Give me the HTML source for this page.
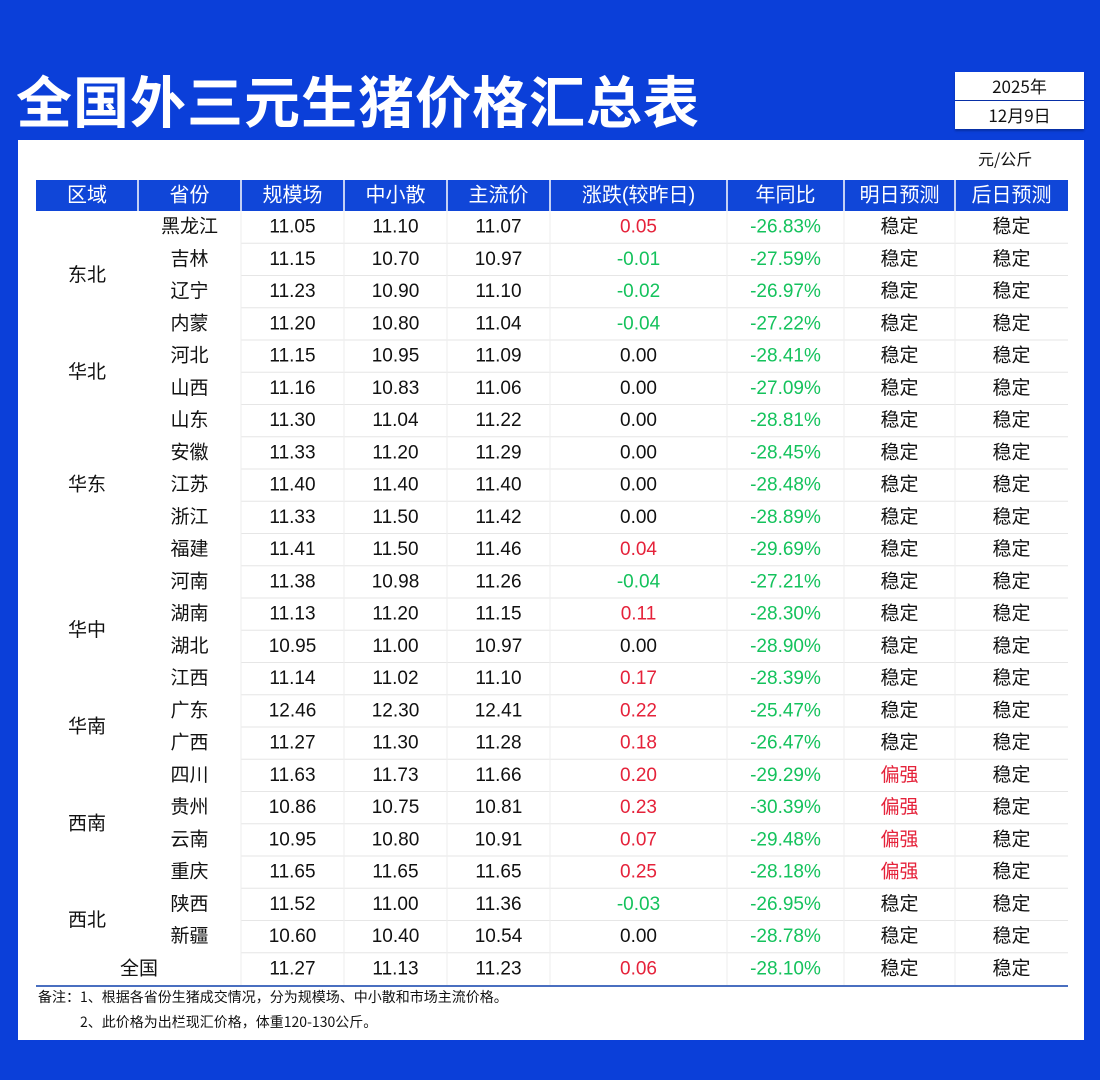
<!DOCTYPE html>
<html><head><meta charset="utf-8"><style>
body{margin:0;width:1100px;height:1080px;background:#0b3fd9;font-family:"Liberation Sans","Noto Sans CJK SC",sans-serif;position:relative;overflow:hidden}
#title{position:absolute;left:16px;top:62px;font-size:56px;font-weight:bold;color:#fff;letter-spacing:1px;font-family:"Noto Sans CJK SC",sans-serif;line-height:76px}
.db{position:absolute;left:955px;width:129px;height:28px;background:#fff;color:#111;font-size:17px;text-align:center;line-height:28px;font-family:"Noto Sans CJK SC",sans-serif;box-shadow:0 2px 2px rgba(0,0,0,.25)}
#panel{position:absolute;left:18px;top:140px;width:1066px;height:900px;background:#fff}
#unit{position:absolute;left:978px;top:146px;font-size:16px;color:#111;font-family:"Noto Sans CJK SC",sans-serif}
#tbl{position:absolute;left:0;top:0}
.note{position:absolute;font-size:14px;color:#111;font-family:"Noto Sans CJK SC",sans-serif}
</style></head><body>
<div id="title">全国外三元生猪价格汇总表</div>
<div class="db" style="top:72px">2025年</div>
<div class="db" style="top:101px">12月9日</div>
<div id="panel"></div>
<div id="unit">元/公斤</div>
<svg id="tbl" width="1100" height="1080"></svg>
<div class="note" style="left:38px;top:987px">备注：1、根据各省份生猪成交情况，分为规模场、中小散和市场主流价格。</div>
<div class="note" style="left:80px;top:1012px">2、此价格为出栏现汇价格，体重120-130公斤。</div>
<script>
const headers=["区域","省份","规模场","中小散","主流价","涨跌(较昨日)","年同比","明日预测","后日预测"];
const provinces=["黑龙江","吉林","辽宁","内蒙","河北","山西","山东","安徽","江苏","浙江","福建","河南","湖南","湖北","江西","广东","广西","四川","贵州","云南","重庆","陕西","新疆","全国"];
const scale=[11.05,11.15,11.23,11.20,11.15,11.16,11.30,11.33,11.40,11.33,11.41,11.38,11.13,10.95,11.14,12.46,11.27,11.63,10.86,10.95,11.65,11.52,10.60,11.27];
const small=[11.10,10.70,10.90,10.80,10.95,10.83,11.04,11.20,11.40,11.50,11.50,10.98,11.20,11.00,11.02,12.30,11.30,11.73,10.75,10.80,11.65,11.00,10.40,11.13];
const mainp=[11.07,10.97,11.10,11.04,11.09,11.06,11.22,11.29,11.40,11.42,11.46,11.26,11.15,10.97,11.10,12.41,11.28,11.66,10.81,10.91,11.65,11.36,10.54,11.23];
const change=[0.05,-0.01,-0.02,-0.04,0,0,0,0,0,0,0.04,-0.04,0.11,0,0.17,0.22,0.18,0.20,0.23,0.07,0.25,-0.03,0,0.06];
const yoy=[-26.83,-27.59,-26.97,-27.22,-28.41,-27.09,-28.81,-28.45,-28.48,-28.89,-29.69,-27.21,-28.30,-28.90,-28.39,-25.47,-26.47,-29.29,-30.39,-29.48,-28.18,-26.95,-28.78,-28.10];
const tomorrow=["稳定","稳定","稳定","稳定","稳定","稳定","稳定","稳定","稳定","稳定","稳定","稳定","稳定","稳定","稳定","稳定","稳定","偏强","偏强","偏强","偏强","稳定","稳定","稳定"];
const dayAfter=["稳定","稳定","稳定","稳定","稳定","稳定","稳定","稳定","稳定","稳定","稳定","稳定","稳定","稳定","稳定","稳定","稳定","稳定","稳定","稳定","稳定","稳定","稳定","稳定"];
const regions=["东北","华北","华东","华中","华南","西南","西北"];
const regionStart=[0,4,6,11,15,17,21];
const regionCount=[4,2,5,4,2,4,2];
const cols=[36,138,241,344,447,550,727,844,955,1068];
const top0=211,rh=32.25,hy=180;
const svg=document.getElementById('tbl');
const NS="http://www.w3.org/2000/svg";
function mk(t,a,parent){const e=document.createElementNS(NS,t);for(const k in a)e.setAttribute(k,a[k]);(parent||svg).appendChild(e);return e;}
function txt(x,y,s,fill,size,name){const t=mk('text',{x:x,y:y,'text-anchor':'middle','dominant-baseline':'central',fill:fill,'font-size':size,'font-family':'"Liberation Sans","Noto Sans CJK SC",sans-serif'});t.textContent=s;


return t;}
const hb=mk('rect',{x:cols[0],y:hy,width:cols[9]-cols[0],height:top0-hy,fill:'#1046d8'});


for(let i=0;i<9;i++){
  if(i>0){const l=mk('line',{x1:cols[i],x2:cols[i],y1:hy,y2:top0,stroke:'#fff','stroke-width':1.5});
  
  }
  txt((cols[i]+cols[i+1])/2,hy+15.5,headers[i],'#fff',20,'header-'+i);
}
const n=provinces.length;
for(let r=1;r<n;r++){
  const y=top0+r*rh;
  const l=mk('line',{x1:cols[2],x2:cols[9],y1:y,y2:y,stroke:'#e6e6e6','stroke-width':1});
  
  
}
for(let i=2;i<9;i++){
  const l=mk('line',{x1:cols[i],x2:cols[i],y1:top0,y2:top0+n*rh,stroke:'#eeeeee','stroke-width':1});
  
  
}
const bl=mk('line',{x1:cols[0],x2:cols[9],y1:top0+n*rh+1,y2:top0+n*rh+1,stroke:'#4a6fc0','stroke-width':2});


for(let i=0;i<regions.length;i++){
  const cy=top0+(regionStart[i]+regionCount[i]/2)*rh;
  txt((cols[0]+cols[1])/2,cy,regions[i],'#111',19,'region-label');
}
const red='#e5223a',green='#14c25c';
for(let r=0;r<n;r++){
  const cy=top0+r*rh+rh/2;
  const pcx=r===n-1?139:(cols[1]+cols[2])/2;
  txt(pcx,cy,provinces[r],'#111',19,'province-cell');
  txt((cols[2]+cols[3])/2,cy,scale[r].toFixed(2),'#111',19,'scale-price-cell');
  txt((cols[3]+cols[4])/2,cy,small[r].toFixed(2),'#111',19,'small-price-cell');
  txt((cols[4]+cols[5])/2,cy,mainp[r].toFixed(2),'#111',19,'main-price-cell');
  const c=change[r];
  txt((cols[5]+cols[6])/2,cy,c.toFixed(2),c>0?red:(c<0?green:'#111'),19,'change-cell');
  txt((cols[6]+cols[7])/2,cy,yoy[r].toFixed(2)+'%',green,19,'yoy-cell');
  txt((cols[7]+cols[8])/2,cy,tomorrow[r],tomorrow[r]==='偏强'?red:'#111',19,'forecast-tomorrow-cell');
  txt((cols[8]+cols[9])/2,cy,dayAfter[r],dayAfter[r]==='偏强'?red:'#111',19,'forecast-dayafter-cell');
}
</script>
</body></html>
